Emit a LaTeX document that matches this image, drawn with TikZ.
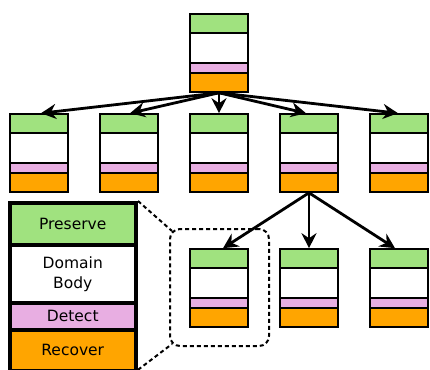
\documentclass[tikz,border=0pt]{standalone}
\usepackage{fontspec}
\setmainfont{DejaVu Sans}
\usetikzlibrary{arrows.meta,calc}
\definecolor{pgreen}{HTML}{A0E27F}
\definecolor{dpink}{HTML}{E8AEE2}
\definecolor{rorange}{HTML}{FFA500}
\tikzset{
  dbox/.style={draw, line width=1.6pt, minimum width=58pt, minimum height=78pt, inner sep=0pt,
    path picture={
      \coordinate (nw) at (path picture bounding box.north west);
      \fill[pgreen] (nw) rectangle ($(nw)+(58,19)$);
      \fill[white] ($(nw)+(0,19)$) rectangle ($(nw)+(58,49)$);
      \fill[dpink] ($(nw)+(0,49)$) rectangle ($(nw)+(58,59)$);
      \fill[rorange] ($(nw)+(0,59)$) rectangle ($(nw)+(58,78)$);
      \draw[line width=1.6pt] ($(nw)+(0,19)$) -- ++(58,0);
      \draw[line width=1.6pt] ($(nw)+(0,49)$) -- ++(58,0);
      \draw[line width=1.6pt] ($(nw)+(0,59)$) -- ++(58,0);
    }},
  legbox/.style={draw, line width=4pt, minimum width=126.5pt, inner sep=0pt, align=center,
    font=\fontsize{15.5}{20}\selectfont, text=black},
  arr/.style={line width=2.8pt, -{Stealth[length=15pt,width=15pt,inset=5pt]}},
  zoomline/.style={line width=2pt, dash pattern=on 4pt off 3pt},
}
\begin{document}
\begin{tikzpicture}[x=1pt,y=-1pt]
\useasboundingbox (0,0) rectangle (430,369);
% tree boxes
\node[dbox] (top) at (219,53) {};
\node[dbox] (b1) at (39,153) {};
\node[dbox] (b2) at (129,153) {};
\node[dbox] (b3) at (219,153) {};
\node[dbox] (b4) at (309,153) {};
\node[dbox] (b5) at (399,153) {};
\node[dbox] (c1) at (219,288) {};
\node[dbox] (c2) at (309,288) {};
\node[dbox] (c3) at (399,288) {};
% arrows
\draw[arr] (top.south) -- ([xshift=2pt]b1.north);
\draw[arr] (top.south) -- ([xshift=1pt]b2.north);
\draw[arr] (top.south) -- (b3.north);
\draw[arr] (top.south) -- ([xshift=-3pt]b4.north);
\draw[arr] (top.south) -- ([xshift=-1pt]b5.north);
\draw[arr] (b4.south) -- ([xshift=4pt]c1.north);
\draw[arr] (b4.south) -- (c2.north);
\draw[arr] (b4.south) -- ([xshift=-4pt]c3.north);
% legend
\node[legbox, fill=rorange, minimum height=41.5pt] (lr) at (72.75,350.25) {Recover};
\node[legbox, fill=dpink, minimum height=26.5pt] (ld) at (72.75,316.25) {Detect};
\node[legbox, fill=white, minimum height=58pt] (lb) at (72.75,274) {Domain\\Body};
\node[legbox, fill=pgreen, minimum height=42pt] (lp) at (72.75,224) {Preserve};
% zoom frame
\node[zoomline, draw, rounded corners=10pt, minimum width=99pt, minimum height=117pt, inner sep=0pt] (zf) at (219.5,287.5) {};
\coordinate (lrcorner) at ($(lr.north east)!0.93!(lr.south east)$);
\draw[zoomline] (lp.north east) -- ($(zf.north west)+(3,3)$);
\draw[zoomline] (lrcorner) -- ($(zf.south west)+(3,-3)$);
\end{tikzpicture}
\end{document}
